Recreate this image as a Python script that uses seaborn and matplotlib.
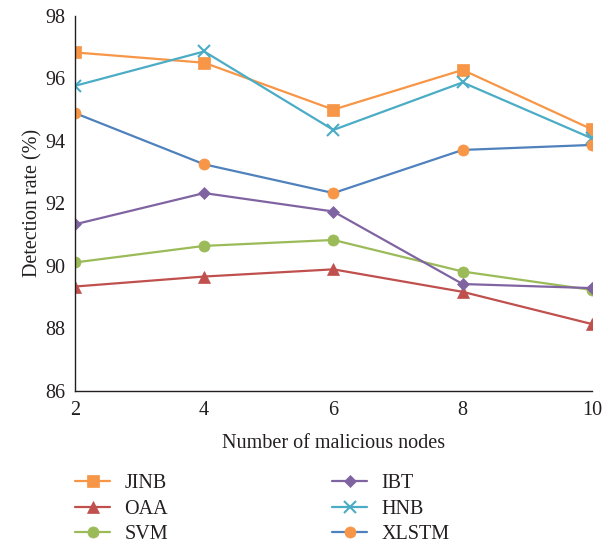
import matplotlib
matplotlib.use("Agg")
import matplotlib.pyplot as plt
import seaborn as sns
import pandas as pd

nodes = [2, 4, 6, 8, 10]
jinb = [96.83, 96.5, 95.0, 96.27, 94.37]
oaa = [89.34, 89.66, 89.89, 89.17, 88.14]
svm = [90.11, 90.64, 90.83, 89.82, 89.23]
ibt = [91.33, 92.33, 91.74, 89.42, 89.29]
hnb = [95.76, 96.86, 94.35, 95.87, 94.08]
xlstm = [94.89, 93.25, 92.33, 93.71, 93.87]

series_names = ["JINB", "OAA", "SVM", "IBT", "HNB", "XLSTM"]
series_vals = [jinb, oaa, svm, ibt, hnb, xlstm]

sns.set_style("white")
plt.rcParams["font.family"] = ["Liberation Serif", "DejaVu Serif"]

styles = {
    "JINB": dict(color="#F79646", marker="s", mfc="#F79646", mec="#F79646", ms=8),
    "OAA": dict(color="#C0504D", marker="^", mfc="#C0504D", mec="#C0504D", ms=8),
    "SVM": dict(color="#9BBB59", marker="o", mfc="#9BBB59", mec="#9BBB59", ms=8),
    "IBT": dict(color="#8064A2", marker="D", mfc="#8064A2", mec="#8064A2", ms=6.5),
    "HNB": dict(color="#4BACC6", marker="x", mfc="#4BACC6", mec="#4BACC6", ms=9),
    "XLSTM": dict(color="#4F81BD", marker="o", mfc="#F79646", mec="#F79646", ms=8),
}

FS = 14.5
TXT = "#231f20"

fig = plt.figure(figsize=(6.14, 5.46), dpi=100)
ax = fig.add_axes([0.122, 0.284, 0.842, 0.687])

for name, vals in zip(series_names, series_vals):
    df = pd.DataFrame({"x": nodes, "y": vals})
    st = styles[name]
    sns.lineplot(data=df, x="x", y="y", ax=ax, color=st["color"], marker=st["marker"],
                 markerfacecolor=st["mfc"], markeredgecolor=st["mec"], markersize=st["ms"],
                 markeredgewidth=1.5 if st["marker"] == "x" else 0.5,
                 linewidth=1.6, label=name)

ax.set_xlim(2, 10)
ax.set_ylim(86, 98)
ax.set_xticks([2, 4, 6, 8, 10])
ax.set_yticks([86, 88, 90, 92, 94, 96, 98])
ax.tick_params(direction="in", length=6, width=1, labelsize=FS, colors=TXT, pad=7)
for s in ["top", "right"]:
    ax.spines[s].set_visible(False)
for s in ["left", "bottom"]:
    ax.spines[s].set_color(TXT)
    ax.spines[s].set_linewidth(1.0)
ax.set_xlabel("Number of malicious nodes", fontsize=FS, color=TXT, labelpad=10)
ax.set_ylabel("Detection rate (%)", fontsize=FS, color=TXT, labelpad=2)

leg = ax.legend(loc="upper left", bbox_to_anchor=(-0.035, -0.174), ncol=2, frameon=False,
                fontsize=FS, handlelength=1.75, columnspacing=8.15, labelspacing=0.3,
                handletextpad=0.7)
for t in leg.get_texts():
    t.set_color(TXT)
fig.savefig("out.png", dpi=100)
